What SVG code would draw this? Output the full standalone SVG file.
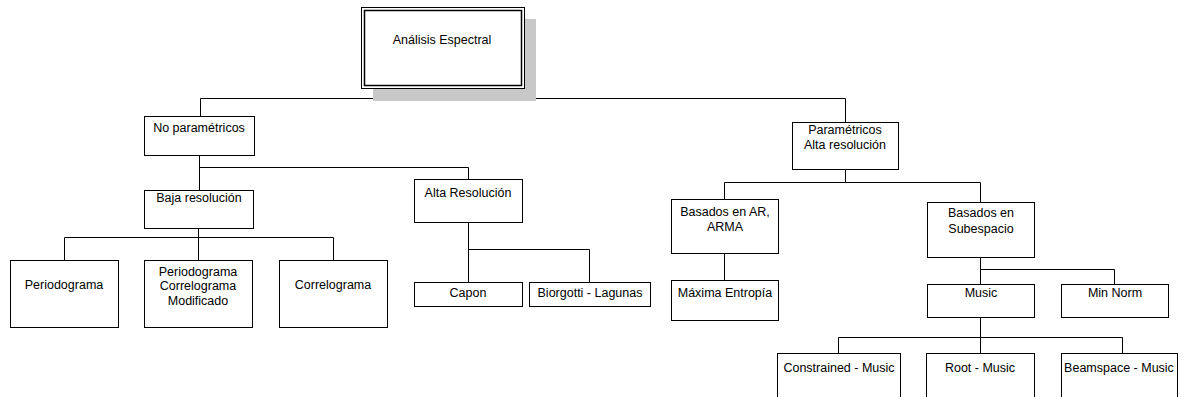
<svg xmlns="http://www.w3.org/2000/svg" width="1186" height="397" viewBox="0 0 1186 397">
<style>
.box{fill:#fff;stroke:#000;stroke-width:1}
.t{font-family:"Liberation Sans",Arial,sans-serif;font-size:12.5px;fill:#000;text-anchor:middle}
.c{fill:none;stroke:#000;stroke-width:1}
</style>
<rect width="1186" height="397" fill="#fff"/>
<g id="connectors">
<path class="c" d="M441.5 88V98.5M200.5 98.5H845.5M200.5 98.5V116M845.5 98.5V122"/>
<path class="c" d="M199.5 155V190M199.5 167.5H468.5V179"/>
<path class="c" d="M198.5 228V260M64.5 237.5H333.5M64.5 237.5V260M333.5 237.5V260"/>
<path class="c" d="M468.5 222V282M468.5 249.5H589.5V282"/>
<path class="c" d="M845.5 169V182.5M724.5 182.5H980.5M724.5 182.5V199M980.5 182.5V202"/>
<path class="c" d="M724.5 253V280"/>
<path class="c" d="M980.5 257V284M980.5 269.5H1114.5V284"/>
<path class="c" d="M980.5 317V353M838.5 337.5H1122.5M838.5 337.5V353M1122.5 337.5V353" stroke-width="1.5"/>
</g>
<g id="analisis">
<rect x="373" y="19" width="163" height="82" fill="#c8c8c8"/>
<rect class="box" x="361.5" y="7.5" width="163" height="81"/>
<rect x="364.5" y="10.5" width="157" height="75" fill="none" stroke="#000" stroke-width="1.5"/>
<text class="t" x="442" y="44">Análisis Espectral</text>
</g>
<g id="noparam"><rect class="box" x="144.5" y="116.5" width="110" height="39"/><text class="t" x="199" y="132">No paramétricos</text></g>
<g id="baja"><rect class="box" x="144.5" y="190.5" width="109" height="38"/><text class="t" x="199" y="202">Baja resolución</text></g>
<g id="alta"><rect class="box" x="414.5" y="179.5" width="108" height="43"/><text class="t" x="468" y="197">Alta Resolución</text></g>
<g id="periodograma"><rect class="box" x="10.5" y="260.5" width="108" height="67"/><text class="t" x="64" y="289">Periodograma</text></g>
<g id="pcm"><rect class="box" x="144.5" y="260.5" width="108" height="67"/><text class="t" x="198" y="275.5">Periodograma</text><text class="t" x="198" y="290">Correlograma</text><text class="t" x="198" y="304.5">Modificado</text></g>
<g id="correlograma"><rect class="box" x="279.5" y="260.5" width="108" height="67"/><text class="t" x="333" y="289">Correlograma</text></g>
<g id="capon"><rect class="box" x="414.5" y="282.5" width="108" height="24"/><text class="t" x="468" y="297">Capon</text></g>
<g id="biorgotti"><rect class="box" x="529.5" y="282.5" width="121" height="24"/><text class="t" x="590" y="297">Biorgotti - Lagunas</text></g>
<g id="param"><rect class="box" x="792.5" y="122.5" width="106" height="47"/><text class="t" x="845" y="134">Paramétricos</text><text class="t" x="845" y="149">Alta resolución</text></g>
<g id="ar"><rect class="box" x="671.5" y="199.5" width="107" height="54"/><text class="t" x="725" y="216">Basados en AR,</text><text class="t" x="725" y="231">ARMA</text></g>
<g id="maxima"><rect class="box" x="671.5" y="280.5" width="107" height="40"/><text class="t" x="725" y="297">Máxima Entropía</text></g>
<g id="subespacio"><rect class="box" x="927.5" y="202.5" width="107" height="55"/><text class="t" x="981" y="217">Basados en</text><text class="t" x="981" y="233">Subespacio</text></g>
<g id="music"><rect class="box" x="927.5" y="284.5" width="107" height="33"/><text class="t" x="981" y="297">Music</text></g>
<g id="minnorm"><rect class="box" x="1061.5" y="284.5" width="107" height="33"/><text class="t" x="1115" y="297">Min Norm</text></g>
<g id="constrained"><rect class="box" x="777.5" y="353.5" width="123" height="50"/><text class="t" x="839" y="372">Constrained - Music</text></g>
<g id="root"><rect class="box" x="926.5" y="353.5" width="108" height="50"/><text class="t" x="980" y="372">Root - Music</text></g>
<g id="beamspace"><rect class="box" x="1061.5" y="353.5" width="116" height="50"/><text class="t" x="1119" y="372">Beamspace - Music</text></g>
</svg>
